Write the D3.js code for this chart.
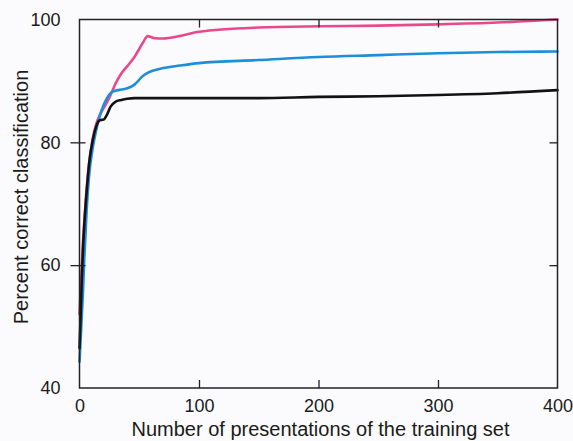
<!DOCTYPE html>
<html>
<head>
<meta charset="utf-8">
<script src="https://cdn.jsdelivr.net/npm/d3@7"></script>
<style>
  html, body { margin: 0; padding: 0; background: #fbfafc; }
  svg { display: block; }
  text { font-family: "Liberation Sans", Arial, Helvetica, sans-serif; fill: #1a1a1a; }
</style>
</head>
<body>
<svg id="chart" width="573" height="441"></svg>
<script>
// ---- data ----
const epochs = [0, 1, 2, 3, 4, 6, 8, 11, 14, 17, 20, 23, 26, 30, 35, 40, 46, 53, 57, 62, 70, 84, 100, 150, 200, 250, 300, 350, 400];
const pinkSeries  = [52, 56, 60, 64, 67, 72.5, 76.5, 80.5, 83, 84.5, 85.5, 86.5, 87.7, 89.5, 91.2, 92.4, 93.9, 96.2, 97.3, 97.0, 96.9, 97.3, 98.0, 98.7, 98.9, 99.0, 99.2, 99.5, 100];
const blueSeries  = [44.3, 48, 52, 56, 61, 69, 74.5, 79, 82, 84.3, 86, 87.2, 88, 88.4, 88.6, 88.8, 89.4, 90.8, 91.3, 91.7, 92.1, 92.5, 92.9, 93.4, 93.9, 94.2, 94.5, 94.7, 94.8];
const blackSeries = [46.5, 52, 58, 63, 66.5, 72, 76.5, 80.3, 82.6, 83.6, 83.7, 84.5, 85.8, 86.6, 86.9, 87.1, 87.2, 87.2, 87.2, 87.2, 87.2, 87.2, 87.2, 87.2, 87.4, 87.5, 87.7, 88.0, 88.5];
const xTicks = [0, 100, 200, 300, 400];
const yTicks = [40, 60, 80, 100];
const xTitle = "Number of presentations of the training set";
const yTitle = "Percent correct classification";

// ---- layout ----
const svg = d3.select("#chart");
const L = 79.5, R = 557.5, T = 19.5, B = 388;
const x = d3.scaleLinear().domain([0, 400]).range([L, R]);
const y = d3.scaleLinear().domain([40, 100]).range([B, T]);

// series lines
const line = d3.line()
  .x((d, i) => x(epochs[i]))
  .y(d => y(d))
  .curve(d3.curveMonotoneX);

const series = [
  { values: pinkSeries, color: "#e8498c" },
  { values: blueSeries, color: "#1b8fd9" },
  { values: blackSeries, color: "#121212" }
];
svg.append("g").selectAll("path").data(series).join("path")
  .attr("d", d => line(d.values))
  .attr("fill", "none")
  .attr("stroke", d => d.color)
  .attr("stroke-width", 2.6)
  .attr("stroke-linejoin", "round")
  .attr("stroke-linecap", "round");

// frame
svg.append("rect")
  .attr("x", L).attr("y", T)
  .attr("width", R - L).attr("height", B - T)
  .attr("fill", "none").attr("stroke", "#222").attr("stroke-width", 1.5);

// bottom axis: inward ticks + labels
const axB = d3.axisBottom(x).tickValues(xTicks).tickSizeInner(-8).tickSizeOuter(0).tickPadding(11);
const gb = svg.append("g").attr("transform", `translate(0,${B})`).call(axB);
gb.select(".domain").remove();
gb.selectAll(".tick line").attr("stroke", "#222").attr("stroke-width", 1.3)
  .filter(d => d === 0 || d === 400).remove();
gb.selectAll(".tick text").attr("font-size", 18).attr("fill", "#1a1a1a")
  .attr("font-family", '"Liberation Sans", Arial, sans-serif');

// top axis: inward ticks
const axT = d3.axisTop(x).tickValues(xTicks.filter(v => v > 0 && v < 400)).tickSizeInner(-8).tickSizeOuter(0).tickFormat("");
const gt = svg.append("g").attr("transform", `translate(0,${T})`).call(axT);
gt.select(".domain").remove();
gt.selectAll(".tick line").attr("stroke", "#222").attr("stroke-width", 1.3);

// left axis: crossing ticks + labels
const axL = d3.axisLeft(y).tickValues(yTicks).tickSizeInner(9).tickSizeOuter(0).tickPadding(10);
const gl = svg.append("g").attr("transform", `translate(${L},0)`).call(axL);
gl.select(".domain").remove();
gl.selectAll(".tick line").attr("stroke", "#222").attr("stroke-width", 1.3)
  .attr("x2", -9).attr("x1", 6)
  .filter(d => d === 40 || d === 100).remove();
gl.selectAll(".tick text").attr("font-size", 18).attr("fill", "#1a1a1a")
  .attr("font-family", '"Liberation Sans", Arial, sans-serif');

// right axis: inward ticks
const axR = d3.axisRight(y).tickValues(yTicks.filter(v => v > 40 && v < 100)).tickSizeInner(-8).tickSizeOuter(0).tickFormat("");
const gr = svg.append("g").attr("transform", `translate(${R},0)`).call(axR);
gr.select(".domain").remove();
gr.selectAll(".tick line").attr("stroke", "#222").attr("stroke-width", 1.3);

// titles
svg.append("text")
  .attr("x", (L + R) / 2 + 2).attr("y", 436)
  .attr("text-anchor", "middle").attr("font-size", 20)
  .text(xTitle);
svg.append("text")
  .attr("transform", `translate(28,197) rotate(-90)`)
  .attr("text-anchor", "middle").attr("font-size", 20)
  .text(yTitle);
</script>
</body>
</html>
